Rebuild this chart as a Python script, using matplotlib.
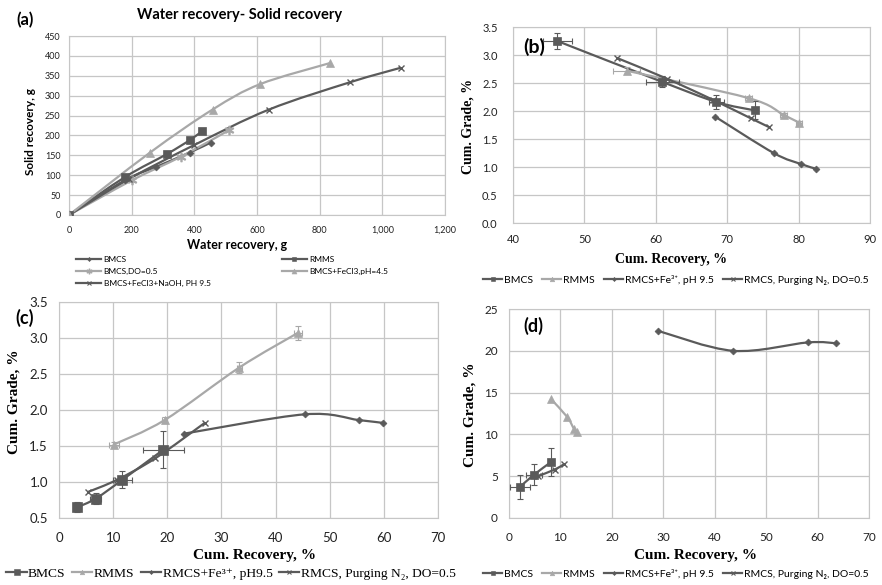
import matplotlib.pyplot as plt
import numpy as np
from matplotlib.path import Path
from matplotlib.patches import PathPatch
from matplotlib.lines import Line2D
from matplotlib.ticker import FuncFormatter

DARK = '#5a5a5a'
LIGHT = '#a8a8a8'
GRID = '#c6c6c6'
SANS = ['Lato', 'DejaVu Sans']
SERIF = ['Liberation Serif', 'DejaVu Serif']

# (a) solid recovery vs water recovery, g
a_bmcs_x = [0, 180, 278, 385, 452]
a_bmcs_y = [0, 88, 121, 157, 182]
a_rmms_x = [0, 180, 312, 387, 423]
a_rmms_y = [0, 96, 153, 189, 210]
a_do_x = [0, 200, 358, 510]
a_do_y = [0, 87, 147, 213]
a_fe_x = [0, 257, 458, 610, 833]
a_fe_y = [0, 156, 265, 329, 382]
a_naoh_x = [0, 190, 400, 638, 898, 1058]
a_naoh_y = [0, 90, 176, 265, 334, 370]

# (b) cum. grade vs cum. recovery
b_bmcs_x = [46.2, 60.9, 68.5, 73.9]
b_bmcs_y = [3.25, 2.52, 2.16, 2.01]
b_bmcs_xerr = [2.0, 2.3, 1.0, 0.3]
b_bmcs_yerr = [0.14, 0.10, 0.13, 0.16]
b_rmms_x = [55.9, 73.0, 77.9, 80.1]
b_rmms_y = [2.72, 2.23, 1.93, 1.79]
b_rmms_xerr = [1.9, 0.5, 0.5, 0.4]
b_rmms_yerr = [0.06, 0.04, 0.04, 0.04]
b_fe_x = [68.3, 76.5, 80.4, 82.4]
b_fe_y = [1.90, 1.25, 1.05, 0.97]
b_n2_x = [54.5, 61.5, 68.0, 73.3, 75.9]
b_n2_y = [2.95, 2.58, 2.20, 1.87, 1.71]

# (c)
c_bmcs_x = [3.4, 6.8, 11.7, 19.3]
c_bmcs_y = [0.65, 0.77, 1.03, 1.45]
c_bmcs_xerr = [0.5, 1.0, 1.7, 3.7]
c_bmcs_yerr = [0.07, 0.08, 0.12, 0.26]
c_rmms_x = [10.1, 19.5, 33.3, 44.1]
c_rmms_y = [1.52, 1.86, 2.59, 3.07]
c_rmms_xerr = [0.9, 0.5, 0.5, 0.7]
c_rmms_yerr = [0.03, 0.04, 0.07, 0.10]
c_fe_x = [23.0, 45.4, 55.4, 59.9]
c_fe_y = [1.67, 1.94, 1.86, 1.82]
c_n2_x = [5.3, 10.7, 17.8, 26.9]
c_n2_y = [0.86, 1.03, 1.33, 1.82]

# (d)
d_bmcs_x = [2.1, 4.9, 8.2]
d_bmcs_y = [3.7, 5.2, 6.7]
d_bmcs_xerr = [2.0, 1.5, 0.6]
d_bmcs_yerr = [1.4, 1.3, 1.7]
d_rmms_x = [8.2, 11.3, 12.6, 13.2]
d_rmms_y = [14.2, 12.1, 10.7, 10.3]
d_fe_x = [28.9, 43.6, 58.1, 63.6]
d_fe_y = [22.4, 20.0, 21.0, 20.9]
d_n2_x = [5.6, 8.9, 10.6]
d_n2_y = [5.0, 5.8, 6.4]


def smooth_path(x, y):
    # excel-like smoothed line through the points
    p = np.column_stack([x, y]).astype(float)
    pts = np.vstack([p[0], p, p[-1]])
    verts = [p[0]]
    codes = [Path.MOVETO]
    for i in range(1, len(pts) - 2):
        c1 = pts[i] + (pts[i + 1] - pts[i - 1]) / 6
        c2 = pts[i + 1] - (pts[i + 2] - pts[i]) / 6
        verts += [c1, c2, pts[i + 1]]
        codes += [Path.CURVE4] * 3
    return Path(verts, codes)


def draw(ax, x, y, color, marker, ms, label, xerr=None, yerr=None, lw=1.6):
    ax.add_patch(PathPatch(smooth_path(x, y), fill=False, edgecolor=color, lw=lw, zorder=2))
    if xerr is not None or yerr is not None:
        ax.errorbar(x, y, xerr=xerr, yerr=yerr, fmt='none', ecolor=color,
                    elinewidth=0.8, capsize=2, capthick=0.8, zorder=3)
    mew = 1.0 if marker in ('x', '$*$') else 0.5
    ax.plot(x, y, ls='none', marker=marker, ms=ms, color=color, mew=mew, zorder=4)
    return Line2D([], [], color=color, lw=lw, marker=marker, ms=ms * 0.6, mew=mew * 0.8, label=label)


def style(ax, xlim, xticks, ylim, yticks, size, xpad, ypad, yfmt=None):
    ax.set_xlim(*xlim)
    ax.set_ylim(*ylim)
    ax.set_xticks(xticks)
    ax.set_yticks(yticks)
    ax.grid(True, color=GRID, lw=0.9)
    ax.set_axisbelow(True)
    for s in ax.spines.values():
        s.set_color(GRID)
    ax.tick_params(length=0, labelsize=size, colors='#222222')
    ax.tick_params(axis='x', pad=xpad)
    ax.tick_params(axis='y', pad=ypad)
    for lab in ax.get_xticklabels() + ax.get_yticklabels():
        lab.set_family(SANS)
    if yfmt:
        ax.yaxis.set_major_formatter(FuncFormatter(lambda v, p: yfmt % v))


fig = plt.figure(figsize=(8.82, 5.85), dpi=100)
W, H = 882.0, 585.0


def box(l, t, r, b):
    return [l / W, 1 - b / H, (r - l) / W, (b - t) / H]


# ---- (a)
ax_a = fig.add_axes(box(69, 36, 445, 215))
ha = []
ha.append(draw(ax_a, a_bmcs_x, a_bmcs_y, DARK, 'D', 3.5, 'BMCS'))
ha.append(draw(ax_a, a_do_x, a_do_y, LIGHT, '$*$', 6, 'BMCS,DO=0.5'))
ha.append(draw(ax_a, a_naoh_x, a_naoh_y, DARK, 'x', 5, 'BMCS+FeCl3+NaOH, PH 9.5'))
ha.append(draw(ax_a, a_rmms_x, a_rmms_y, DARK, 's', 6, 'RMMS'))
ha.append(draw(ax_a, a_fe_x, a_fe_y, LIGHT, '^', 6, 'BMCS+FeCl3,pH=4.5'))
style(ax_a, (0, 1200), range(0, 1201, 200), (0, 450), range(0, 451, 50), 6.5, 8, 6)
ax_a.xaxis.set_major_formatter(FuncFormatter(lambda v, p: f'{int(v):,}'))
fig.text(25 / W, 1 - 20 / H, '(a)', family=SANS, weight='bold', fontsize=12, ha='center', va='center')
fig.text(240 / W, 1 - 15 / H, 'Water recovery- Solid recovery', family=SANS, weight='bold',
         fontsize=10.5, ha='center', va='center')
fig.text(237 / W, 1 - 245 / H, 'Water recovery, g', family=SANS, weight='bold', fontsize=9,
         ha='center', va='center')
fig.text(30 / W, 1 - 132 / H, 'Solid recovery, g', family=SANS, weight='bold', fontsize=8.5,
         ha='center', va='center', rotation=90)
fig.legend(handles=ha, loc='upper left', bbox_to_anchor=(72 / W, 1 - 252 / H), ncol=2,
           frameon=False, prop={'family': SANS, 'size': 6}, handlelength=3.0,
           columnspacing=8.5, labelspacing=0.6, handletextpad=0.3, borderpad=0)

# ---- (b)
ax_b = fig.add_axes(box(513, 27, 870, 223))
hb = []
hb.append(draw(ax_b, b_bmcs_x, b_bmcs_y, DARK, 's', 6, 'BMCS', b_bmcs_xerr, b_bmcs_yerr))
hb.append(draw(ax_b, b_rmms_x, b_rmms_y, LIGHT, '^', 5.5, 'RMMS', b_rmms_xerr, b_rmms_yerr))
hb.append(draw(ax_b, b_fe_x, b_fe_y, DARK, 'D', 3.5, 'RMCS+Fe³⁺, pH 9.5'))
hb.append(draw(ax_b, b_n2_x, b_n2_y, DARK, 'x', 5, 'RMCS, Purging N₂, DO=0.5'))
style(ax_b, (40, 90), range(40, 91, 10), (0, 3.5), np.arange(0, 3.51, 0.5), 8, 8, 11, '%.1f')
ax_b.text(0.03, 0.9, '(b)', transform=ax_b.transAxes, family=SANS, weight='bold', fontsize=14,
          ha='left', va='center')
fig.text(671 / W, 1 - 260 / H, 'Cum. Recovery, %', family=SERIF, weight='bold', fontsize=10,
         ha='center', va='center')
fig.text(468 / W, 1 - 126 / H, 'Cum. Grade, %', family=SERIF, weight='bold', fontsize=10,
         ha='center', va='center', rotation=90)
fig.legend(handles=hb, loc='center', bbox_to_anchor=(676 / W, 1 - 280 / H), ncol=4,
           frameon=False, prop={'family': SANS, 'size': 7.5}, handlelength=1.8,
           columnspacing=0.9, handletextpad=0.2, borderpad=0)

# ---- (c)
ax_c = fig.add_axes(box(59, 302, 438, 518))
hc = []
hc.append(draw(ax_c, c_bmcs_x, c_bmcs_y, DARK, 's', 6.5, 'BMCS', c_bmcs_xerr, c_bmcs_yerr))
hc.append(draw(ax_c, c_rmms_x, c_rmms_y, LIGHT, '^', 5.5, 'RMMS', c_rmms_xerr, c_rmms_yerr))
hc.append(draw(ax_c, c_fe_x, c_fe_y, DARK, 'D', 3.5, 'RMCS+Fe³⁺, pH9.5'))
hc.append(draw(ax_c, c_n2_x, c_n2_y, DARK, 'x', 5, 'RMCS, Purging N₂, DO=0.5'))
style(ax_c, (0, 70), range(0, 71, 10), (0.5, 3.5), np.arange(0.5, 3.51, 0.5), 9.5, 10, 8, '%.1f')
fig.text(25 / W, 1 - 318 / H, '(c)', family=SANS, weight='bold', fontsize=13, ha='center', va='center')
fig.text(254 / W, 1 - 555 / H, 'Cum. Recovery, %', family=SERIF, weight='bold', fontsize=11,
         ha='center', va='center')
fig.text(14 / W, 1 - 402 / H, 'Cum. Grade, %', family=SERIF, weight='bold', fontsize=11,
         ha='center', va='center', rotation=90)
fig.legend(handles=hc, loc='center', bbox_to_anchor=(231 / W, 1 - 574 / H), ncol=4,
           frameon=False, prop={'family': SERIF, 'size': 9.7}, handlelength=1.5,
           columnspacing=0.5, handletextpad=0.1, borderpad=0)

# ---- (d)
ax_d = fig.add_axes(box(509, 309, 869, 518))
hd = []
hd.append(draw(ax_d, d_bmcs_x, d_bmcs_y, DARK, 's', 6, 'BMCS', d_bmcs_xerr, d_bmcs_yerr))
hd.append(draw(ax_d, d_rmms_x, d_rmms_y, LIGHT, '^', 5.5, 'RMMS'))
hd.append(draw(ax_d, d_fe_x, d_fe_y, DARK, 'D', 3.5, 'RMCS+Fe³⁺, pH 9.5'))
hd.append(draw(ax_d, d_n2_x, d_n2_y, DARK, 'x', 5, 'RMCS, Purging N₂, DO=0.5'))
style(ax_d, (0, 70), range(0, 71, 10), (0, 25), range(0, 26, 5), 8.5, 10, 8)
ax_d.text(0.04, 0.92, '(d)', transform=ax_d.transAxes, family=SANS, weight='bold', fontsize=13,
          ha='left', va='center')
fig.text(695 / W, 1 - 555 / H, 'Cum. Recovery, %', family=SERIF, weight='bold', fontsize=11,
         ha='center', va='center')
fig.text(470 / W, 1 - 415 / H, 'Cum. Grade, %', family=SERIF, weight='bold', fontsize=11,
         ha='center', va='center', rotation=90)
fig.legend(handles=hd, loc='center', bbox_to_anchor=(676 / W, 1 - 574 / H), ncol=4,
           frameon=False, prop={'family': SANS, 'size': 7.5}, handlelength=1.8,
           columnspacing=0.9, handletextpad=0.2, borderpad=0)

fig.savefig('out.png', dpi=100)
